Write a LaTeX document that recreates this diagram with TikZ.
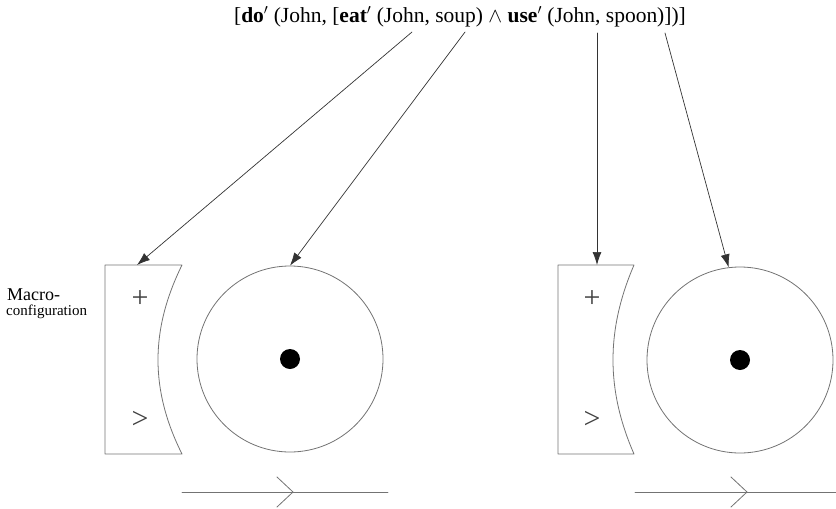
\documentclass[tikz,border=0pt]{standalone}
\usepackage{fontspec}
\setmainfont{Liberation Serif}
\usetikzlibrary{arrows.meta}
\begin{document}
\begin{tikzpicture}[x=1pt,y=-1pt,>={Latex[length=13pt,width=9pt]}, line join=round, line cap=round,
	shape line/.style={draw=black!55, line width=0.8pt},
	link/.style={->, draw=black!80, line width=0.7pt},
	wheel/.style={circle, shape line, minimum size=186pt, inner sep=0pt},
	sign/.style={font=\fontsize{30}{30}\selectfont, text=black!75}]
	\useasboundingbox (0,0) rectangle (836,509);
	% Formel oben
	\node[font=\fontsize{21.5}{23}\selectfont, inner sep=0pt] (formula) at (460,17)
		{[\textbf{do}$'$ (John, [\textbf{eat}$'$ (John, soup) $\wedge$ \textbf{use}$'$ (John, spoon)])]};
	\coordinate (fDo) at (412,32); \coordinate (fEat) at (465,32);
	\coordinate (fUse) at (597,33); \coordinate (fSpoon) at (665,33);
	% Beschriftung links
	\node[anchor=base west, inner sep=0pt, font=\fontsize{18}{19}\selectfont] (macro) at (7,300) {Macro-};
	\node[anchor=base west, inner sep=0pt, font=\fontsize{15}{16}\selectfont] (config) at (6,315) {configuration};
	% linke Gruppe
	\draw[shape line] (182,265) -- (105,265) -- (105,454) -- (182,454)
		.. controls (150,390) and (150,330) .. (182,265);
	\coordinate (boxL) at (137,265);
	\node[sign] (plusL) at (140,299) {+};
	\node[sign] (gtL) at (140,420) {>};
	\node[wheel] (wheelL) at (290,359) {};
	\fill (wheelL.center) circle (10);
	\draw[shape line] (182,492) coordinate (lineLa) -- (388,492) coordinate (lineLb);
	\draw[shape line] (277,477) -- (293,492) -- (277,507);
	% rechte Gruppe
	\draw[shape line] (634,265) -- (558,265) -- (558,454) -- (634,454)
		.. controls (606,390) and (606,330) .. (634,265);
	\coordinate (boxR) at (597,265);
	\node[sign] (plusR) at (592,299) {+};
	\node[sign] (gtR) at (592,420) {>};
	\node[wheel] (wheelR) at (740,360) {};
	\fill (wheelR.center) circle (10);
	\draw[shape line] (635,492) coordinate (lineRa) -- (836,492) coordinate (lineRb);
	\draw[shape line] (731,477) -- (747,492) -- (731,507);
	% Pfeile
	\draw[link] (fDo) -- (boxL);
	\draw[link] (fEat) -- (wheelL.north);
	\draw[link] (fUse) -- (boxR);
	\draw[link] (fSpoon) -- (wheelR.97);
\end{tikzpicture}
\end{document}
